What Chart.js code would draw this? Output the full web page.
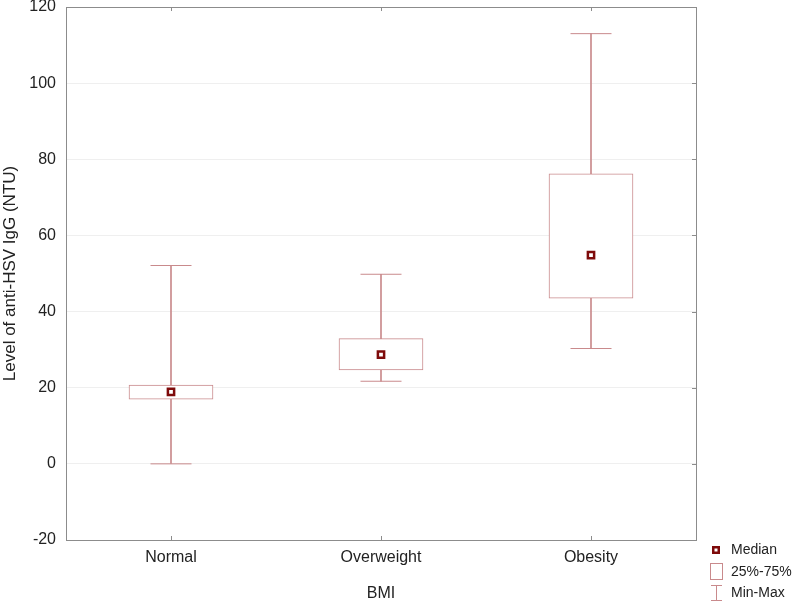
<!DOCTYPE html>
<html>
<head>
<meta charset="utf-8">
<script src="https://cdn.jsdelivr.net/npm/chart.js@4"></script>
<style>
html,body{margin:0;padding:0;background:#fff;}
#wrap{width:800px;height:601px;position:relative;}
</style>
</head>
<body>
<div id="wrap"><canvas id="c"></canvas></div>
<script>
// ---- data ----
const categories = ["Normal", "Overweight", "Obesity"];
const minValues = [0, 21.7, 30.3];
const q1Values = [17.0, 24.7, 43.5];
const medianValues = [18.9, 28.7, 54.8];
const q3Values = [20.7, 32.9, 76.2];
const maxValues = [52.1, 49.8, 113.0];
const yTicks = [-20, 0, 20, 40, 60, 80, 100, 120];
const legendLabels = ["Median", "25%-75%", "Min-Max"];
const xTitle = "BMI";
const yTitle = "Level of anti-HSV IgG (NTU)";

const FONT = 'Arial, "Liberation Sans", sans-serif';
const BOXC = '#c98a8c';
const MEDC = '#7e0a0a';
const FRAME = '#8c8c8c';

const framePlugin = {
  id: 'frame',
  afterDatasetsDraw(chart) {
    const {ctx, chartArea: a, scales: {x, y}} = chart;
    ctx.save();
    ctx.strokeStyle = FRAME;
    ctx.lineWidth = 1;
    ctx.strokeRect(Math.round(a.left) + 0.5, Math.round(a.top) + 0.5, Math.round(a.right - a.left), Math.round(a.bottom - a.top));
    ctx.beginPath();
    categories.forEach((c, i) => {
      const px = Math.round(x.getPixelForValue(i)) + 0.5;
      ctx.moveTo(px, a.bottom); ctx.lineTo(px, a.bottom - 4);
      ctx.moveTo(px, a.top); ctx.lineTo(px, a.top + 4);
    });
    yTicks.forEach(v => {
      const py = Math.round(y.getPixelForValue(v)) + 0.5;
      ctx.moveTo(a.right, py); ctx.lineTo(a.right - 4, py);
    });
    ctx.stroke();
    ctx.restore();
  },
  afterDraw(chart) {
    const ctx = chart.ctx;
    ctx.save();
    ctx.font = '14px ' + FONT;
    ctx.textBaseline = 'middle';
    const lx = 716, tx = 731, ys = [550, 572, 593];
    // Median icon
    ctx.fillStyle = MEDC;
    ctx.fillRect(lx - 4, ys[0] - 4, 8, 8);
    ctx.fillStyle = '#fff';
    ctx.fillRect(lx - 1.5, ys[0] - 1.5, 3, 3);
    // box icon
    ctx.strokeStyle = BOXC;
    ctx.lineWidth = 1;
    ctx.strokeRect(lx - 5.5, ys[1] - 8.5, 12, 16);
    // min-max icon
    ctx.beginPath();
    ctx.moveTo(lx - 5, ys[2] - 7.5); ctx.lineTo(lx + 6, ys[2] - 7.5);
    ctx.moveTo(lx + 0.5, ys[2] - 7.5); ctx.lineTo(lx + 0.5, ys[2] + 7.5);
    ctx.moveTo(lx - 5, ys[2] + 7.5); ctx.lineTo(lx + 6, ys[2] + 7.5);
    ctx.stroke();
    ctx.fillStyle = '#222';
    legendLabels.forEach((t, i) => ctx.fillText(t, tx, ys[i]));
    ctx.restore();
  }
};

new Chart(document.getElementById('c'), {
  data: {
    labels: categories,
    datasets: [
      {
        type: 'line', label: 'Median', data: medianValues, showLine: false,
        pointStyle: 'rect', pointRadius: 4.4, pointBorderWidth: 2.5,
        pointBackgroundColor: '#fff', pointBorderColor: MEDC, order: 0
      },
      {
        type: 'bar', label: '25%-75%',
        data: q1Values.map((v, i) => [v, q3Values[i]]),
        backgroundColor: '#fff', borderColor: BOXC, borderWidth: 1,
        borderSkipped: false, barThickness: 84, grouped: false, order: 1
      },
      {
        type: 'bar', label: 'Min-Max',
        data: minValues.map((v, i) => [v, maxValues[i]]),
        backgroundColor: BOXC, borderWidth: 0,
        barThickness: 1, grouped: false, order: 3
      },
      {
        type: 'line', label: 'Min cap', data: minValues, showLine: false,
        pointStyle: 'line', pointRadius: 20.5, pointBorderWidth: 1,
        pointBorderColor: BOXC, order: 2
      },
      {
        type: 'line', label: 'Max cap', data: maxValues, showLine: false,
        pointStyle: 'line', pointRadius: 20.5, pointBorderWidth: 1,
        pointBorderColor: BOXC, order: 2
      }
    ]
  },
  options: {
    responsive: true,
    maintainAspectRatio: false,
    animation: false,
    layout: { autoPadding: false, padding: { top: 7, right: 104, bottom: 0, left: 0 } },
    plugins: { legend: { display: false }, tooltip: { enabled: false } },
    scales: {
      x: {
        offset: true,
        grid: { display: false, drawTicks: false },
        border: { display: false },
        ticks: { color: '#222', font: { family: FONT, size: 16 }, padding: 8 },
        title: { display: true, text: xTitle, color: '#222', font: { family: FONT, size: 16 }, padding: { top: 13, bottom: -2 } },
        afterFit: (s) => { s.height = 61; s.paddingLeft = 0; s.paddingRight = 0; }
      },
      y: {
        min: -20, max: 120,
        afterBuildTicks: (s) => { s.ticks = yTicks.map(v => ({ value: v })); },
        grid: { color: '#efefef', drawTicks: false },
        border: { display: false },
        ticks: { color: '#222', font: { family: FONT, size: 16 }, padding: 10 },
        title: { display: true, text: yTitle, color: '#222', font: { family: FONT, size: 17 }, padding: { top: 0, bottom: 0 } },
        afterFit: (s) => { s.width = 66; s.paddingTop = 0; s.paddingBottom = 0; }
      }
    }
  },
  plugins: [framePlugin]
});
</script>
</body>
</html>
